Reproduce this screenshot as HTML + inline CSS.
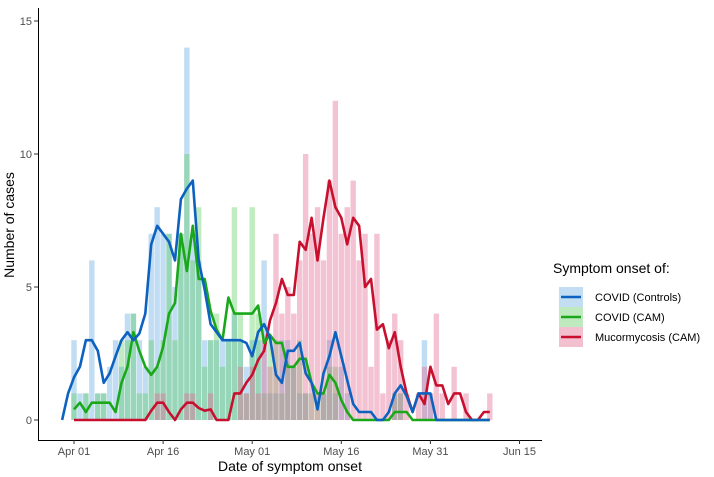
<!DOCTYPE html>
<html><head><meta charset="utf-8"><style>
body{margin:0;background:#fff;font-family:"Liberation Sans",sans-serif}
svg{display:block}
</style></head><body>
<svg id="chart" width="714" height="477"></svg>
<script>
const days = []; for (let i=0;i<=70;i++) days.push(i); // day index from Apr 01
const controlsBars = [3,1,1,6,1,1,2,3,2,4,4,3,2,7,8,7,7,5,7,14,7,6,3,3,3,3,3,4,3,2,3,3,6,1,1,3,3,2,1,1,0,0,1,3,1,2,1,0,0,0,0,0,0,0,1,1,0,0,0,3,1,0,0,0,0,0,0,0,0,0,0];
const camBars = [1,0,1,0,1,1,0,0,3,3,4,1,1,3,2,3,7,3,7,10,6,8,2,3,4,2,3,8,4,1,8,4,1,3,3,1,2,2,3,1,1,1,1,2,2,0,0,0,0,0,0,0,0,0,1,1,0,0,0,0,0,0,0,0,0,0,0,0,0,0,0];
const mucorBars = [0,0,0,0,0,0,0,0,0,0,0,0,0,0,1,1,0,0,0,1,1,0,0,1,0,0,0,0,2,1,2,1,3,2,7,4,5,4,6,10,7,8,6,9,12,7,8,9,6,7,2,7,1,3,4,3,1,0,1,2,1,4,1,0,2,0,1,0,0,0,1];
const lineStart = -2;
const controlsLine = [0,1,1.6,2,3,3,2.6,1.4,1.75,2.4,3,3.3,3,3.25,4,6.6,7.3,7,6.7,6,8.3,8.7,9,6,4.9,3.6,3.3,3,3,3,3,2.9,2.4,3.3,3.6,3.1,1.7,1.4,2.6,2.6,2.9,1.75,1.4,0.4,1.75,2.4,3.3,2.4,1.5,0.6,0.3,0.3,0.3,0,0,0.3,1,1.3,0.9,0.3,1,1,1,0,0,0,0,0,0,0,0,0,0];
const camLine = [null,null,0.4,0.65,0.3,0.65,0.65,0.65,0.65,0.3,1.4,2,3.3,2.6,2,1.7,2,2.75,4,4.4,7,5.6,7.3,5.3,5.3,4.1,3.4,3,4.6,4,4,4,4,4.3,2.9,3.2,2.9,2.9,2,2,2.3,2.3,1.4,1,1,1.7,1.4,0.75,0.3,0,0,0,0,0,0,0,0.3,0.3,0.3,0,0,0,0,0,0,0,0,0,0,0,0,0,0];
const mucorLine = [null,null,0,0,0,0,0,0,0,0,0,0,0,0,0,0.35,0.65,0.65,0.3,0,0.4,0.65,0.65,0.45,0.35,0.4,0,0,0,1,1,1.4,1.7,2.25,2.6,3.75,4.4,5.3,4.7,4.7,6.7,6.4,7.6,6,7.6,9,8,7.6,6.6,7.6,7.3,5,5.3,3.4,3.6,2.7,3.3,2,1,0.3,1,0.6,2,1.3,1.3,0.6,1,1,0.3,0,0,0.3,0.3];
const yTicks = [0,5,10,15];
const xTickDays = [0,15,30,45,60,75];
const xTickLabels = ["Apr 01","Apr 16","May 01","May 16","May 31","Jun 15"];

const NS="http://www.w3.org/2000/svg", svg=document.getElementById('chart');
const X = d => 74 + d*5.94;
const Y = v => 420 - v*26.6;
function mk(tag, attrs, parent){const e=document.createElementNS(NS,tag);for(const k in attrs)e.setAttribute(k,attrs[k]);(parent||svg).appendChild(e);return e;}

const ax = mk('path',{d:'M38.5 8 V440.5 H542',stroke:'#000','stroke-width':1,fill:'none'});


yTicks.forEach(t=>{
  const tk=mk('line',{x1:34,x2:38,y1:Y(t),y2:Y(t),stroke:'#333'});
  
  
  const tl=mk('text',{x:32,y:Y(t)+4,'text-anchor':'end','font-size':11,fill:'#4d4d4d'});
  tl.textContent=t;
  
  
});
xTickDays.forEach((d,i)=>{
  const tk=mk('line',{x1:X(d),x2:X(d),y1:440,y2:444,stroke:'#333'});
  
  
  const tl=mk('text',{x:X(d),y:455,'text-anchor':'middle','font-size':11,fill:'#4d4d4d'});
  tl.textContent=xTickLabels[i];
  
  
});
const xt=mk('text',{x:290,y:471,'text-anchor':'middle','font-size':14,fill:'#000'});
xt.textContent='Date of symptom onset';


const yt=mk('text',{x:14,y:225,'text-anchor':'middle','font-size':14,fill:'#000',transform:'rotate(-90 14 225)'});
yt.textContent='Number of cases';



function bars(arr, color, op, name){
  arr.forEach((v,i)=>{
    if(!v) return;
    const r=mk('rect',{x:X(days[i])-2.7,y:Y(v),width:5.4,height:Y(0)-Y(v),fill:color,'fill-opacity':op});
    
    
  });
}
bars(controlsBars,'#6aaee3',0.42,'controls-bar');
bars(camBars,'#4cc94c',0.35,'cam-bar');
bars(mucorBars,'#e06890',0.4,'mucor-bar');

function line(arr,color,name){
  let d='';let pen=false;
  arr.forEach((v,i)=>{ if(v===null){pen=false;return;} d+=(pen?'L':'M')+X(lineStart+i).toFixed(1)+' '+Y(v).toFixed(1)+' '; pen=true;});
  const p=mk('path',{d:d,stroke:color,'stroke-width':2.6,fill:'none','stroke-linejoin':'round'});
  
  
}
line(mucorLine,'#c8102e','mucor-line');
line(camLine,'#1aa81a','cam-line');
line(controlsLine,'#0d62c0','controls-line');

const lg=mk('g',{});


const lt=mk('text',{x:553,y:273,'font-size':14,fill:'#000'},lg);
lt.textContent='Symptom onset of:';


[['COVID (Controls)','#c3ddf2','#0d62c0'],['COVID (CAM)','#bfe9bf','#1aa81a'],['Mucormycosis (CAM)','#f3c0d0','#c8102e']].forEach((e,i)=>{
  const y=287+i*20;
  const g=mk('g',{},lg);
  
  
  mk('rect',{x:559,y:y,width:24,height:20,fill:e[1]},g);
  mk('line',{x1:561,x2:581,y1:y+10,y2:y+10,stroke:e[2],'stroke-width':2.6},g);
  const t=mk('text',{x:595,y:y+14,'font-size':11,fill:'#000'},g);
  t.textContent=e[0];
});
</script>
</body></html>
